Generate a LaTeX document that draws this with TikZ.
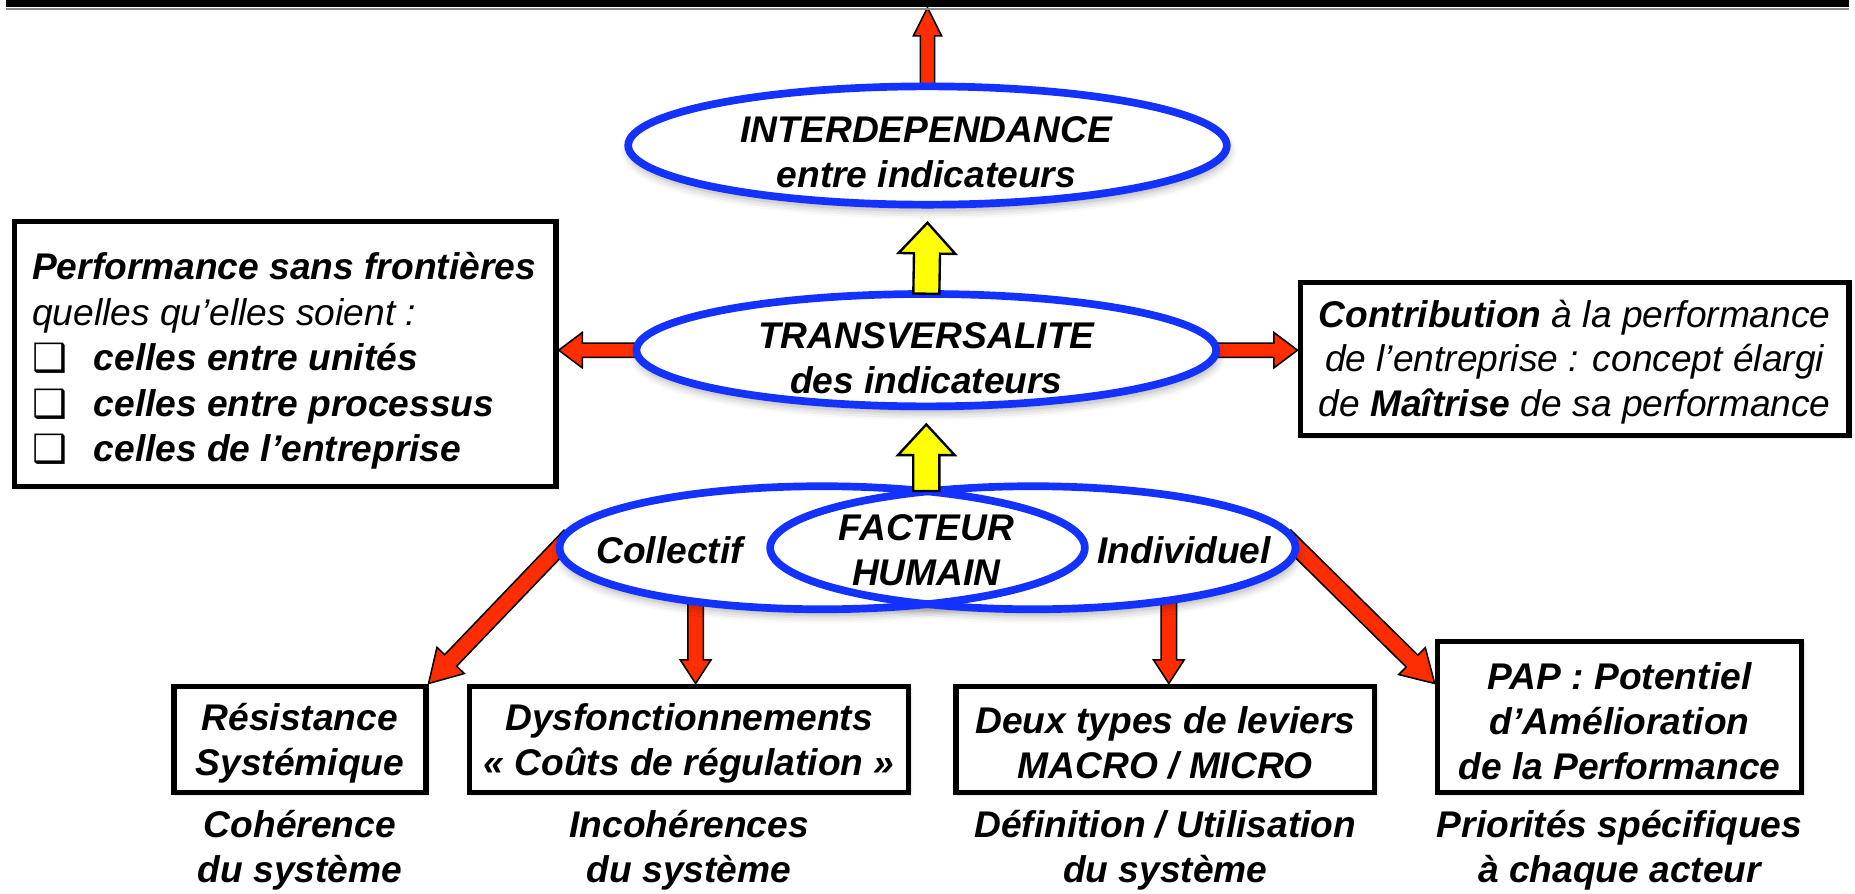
\documentclass[tikz,border=0pt]{standalone}
\usepackage{fontspec}
\setmainfont{Liberation Sans}
\newfontfamily\djv{DejaVu Sans}
\usetikzlibrary{shapes.geometric,calc,shadows.blur}
\pgfdeclarelayer{bg}
\pgfsetlayers{bg,main}
\definecolor{eblue}{RGB}{20,50,255}
\definecolor{ared}{RGB}{255,45,0}
\definecolor{ayel}{RGB}{255,255,0}
\newcommand\cbx{\makebox[52pt][l]{\raisebox{-1pt}{\djv\upshape\mdseries\fontsize{33}{33}\selectfont ❑}}}
\newcommand\fatarrow[6]{%
  \coordinate (fan) at ($(#2)!#5!(#1)$);
  \draw[arrowline,#6] ($(#1)!#3!90:(#2)$) -- ($(fan)!#3!90:(#2)$) -- ($(fan)!#4!90:(#2)$) -- (#2)
    -- ($(fan)!#4!-90:(#2)$) -- ($(fan)!#3!-90:(#2)$) -- ($(#1)!#3!-90:(#2)$) -- cycle;}
\tikzset{
  arrowline/.style={draw=black,line width=1.3pt,line join=miter},
  txt/.style={font=\fontsize{31.4}{38}\selectfont\bfseries\itshape,align=center,inner sep=0pt},
  ltxt/.style={font=\fontsize{31.4}{38.5}\selectfont\itshape,align=left,inner sep=0pt},
  rtxt/.style={font=\fontsize{31.4}{37.5}\selectfont\itshape,align=center,inner sep=0pt},
  eshadow/.style={blur shadow={shadow xshift=1pt,shadow yshift=-5pt,shadow blur radius=7pt,shadow opacity=35}},
  ell/.style={ellipse,draw=eblue,line width=6.5pt,inner sep=0pt},
  box/.style={draw=black,line width=4.5pt,fill=white,inner sep=0pt,
    blur shadow={shadow xshift=1.5pt,shadow yshift=-1.5pt,shadow blur radius=2pt,shadow opacity=35}},
}
\begin{document}
\begin{tikzpicture}[x=1pt,y=-1pt]
\useasboundingbox (0,0) rectangle (1568,755);
% top bar
\node[fill=black,minimum width=1558pt,minimum height=6pt,inner sep=0pt,anchor=north] (bar) at (784,0) {};
\fill[black!45] (bar.south west) rectangle ($(bar.south east)+(0,2)$);

% upper ellipses
\node[ell,fill=white,eshadow,minimum width=506pt,minimum height=100pt] (e1) at (784,123) {};
\node[ell,fill=white,eshadow,minimum width=490pt,minimum height=95pt] (e2) at (783,296) {};

% lower ellipses (Venn)
\path[fill=white,eshadow] (695,463) ellipse [x radius=222,y radius=52];
\path[fill=white,eshadow] (873,463) ellipse [x radius=222,y radius=52];
\path[fill=white] (695,463) ellipse [x radius=222,y radius=52];
\path[fill=white] (873,463) ellipse [x radius=222,y radius=52];
\node[ell,minimum width=444pt,minimum height=104pt] (cl) at (695,463) {};
\node[ell,minimum width=444pt,minimum height=104pt] (ci) at (873,463) {};

% boxes
\node[box,minimum width=458pt,minimum height=224pt] (lbox) at (241,299) {};
\node[box,minimum width=464pt,minimum height=129pt] (rbox) at (1331,303.5) {};
\node[box,minimum width=213pt,minimum height=90pt] (res) at (253.5,625) {};
\node[box,minimum width=371pt,minimum height=90pt] (dys) at (582.5,625) {};
\node[box,minimum width=354pt,minimum height=90pt] (deux) at (985,625) {};
\node[box,minimum width=308pt,minimum height=128pt] (pap) at (1369,606) {};

% red arrows (behind)
\begin{pgfonlayer}{bg}
\coordinate (a1b) at ($(e1.north)+(0,14)$);
\fatarrow{a1b}{bar.south}{6pt}{12pt}{24pt}{fill=ared}
\coordinate (alb) at ($(e2.west)+(14,0)$);
\coordinate (alt) at (lbox.east |- e2.west);
\fatarrow{alb}{alt}{6pt}{15pt}{20pt}{fill=ared}
\coordinate (arb) at ($(e2.east)+(-14,0)$);
\coordinate (art) at (rbox.west |- e2.east);
\fatarrow{arb}{art}{6pt}{15pt}{20pt}{fill=ared}
\coordinate (dlb) at ($(cl.west)+(12,-10)$);
\fatarrow{dlb}{res.north east}{7pt}{16pt}{27pt}{fill=ared}
\coordinate (drb) at ($(ci.east)+(-12,-10)$);
\coordinate (drt) at (pap.west |- res.north);
\fatarrow{drb}{drt}{7pt}{16pt}{27pt}{fill=ared}
\coordinate (ca) at (588,500);
\coordinate (cat) at (ca |- dys.north);
\fatarrow{ca}{cat}{6.5pt}{13pt}{20pt}{fill=ared}
\coordinate (cb) at (988,500);
\coordinate (cbt) at (cb |- deux.north);
\fatarrow{cb}{cbt}{6.5pt}{13pt}{20pt}{fill=ared}
\end{pgfonlayer}

% yellow arrows
\coordinate (y1b) at ($(e2.north)+(0,3)$);
\coordinate (y1t) at ($(e1.south)+(0,12)$);
\fatarrow{y1b}{y1t}{11pt}{24pt}{26pt}{fill=ayel,line width=2pt}
\coordinate (y2b) at (783,415);
\coordinate (y2t) at ($(e2.south)+(0,12)$);
\fatarrow{y2b}{y2t}{11pt}{24pt}{26pt}{fill=ayel,line width=2pt}

% texts
\node[txt] (t1) at (783,129) {INTERDEPENDANCE\\entre indicateurs};
\node[txt] (t2) at (783,302.5) {TRANSVERSALITE\\des indicateurs};
\node[txt] (tcol) at (566,465) {Collectif};
\node[txt] (tfh) at (783,465) {FACTEUR\\HUMAIN};
\node[txt] (tind) at (1001,465) {Individuel};
\node[ltxt,anchor=west] (tl) at (27,305) {{\bfseries Performance sans frontières}\\
quelles qu’elles soient :\\
\cbx\textbf{celles entre unités}\\
\cbx\textbf{celles entre processus}\\
\cbx\textbf{celles de l’entreprise}};
\node[rtxt] (tr) at (1331,306) {\textbf{Contribution} à la performance\\de l’entreprise : concept élargi\\de \textbf{Maîtrise} de sa performance};
\node[txt] (tres) at (253.5,628) {Résistance\\Systémique};
\node[txt] (tdys) at (582.5,628) {Dysfonctionnements\\« Coûts de régulation »};
\node[txt] (tdeux) at (985,628) {Deux types de leviers\\MACRO / MICRO};
\node[txt] (tpap) at (1369,610) {PAP : Potentiel\\d’Amélioration\\de la Performance};
\node[txt] (lres) at (253.5,719) {Cohérence\\du système};
\node[txt] (ldys) at (582.5,719) {Incohérences\\du système};
\node[txt] (ldeux) at (985,719) {Définition / Utilisation\\du système};
\node[txt] (lpap) at (1369,719) {Priorités spécifiques\\à chaque acteur};
\end{tikzpicture}
\end{document}
